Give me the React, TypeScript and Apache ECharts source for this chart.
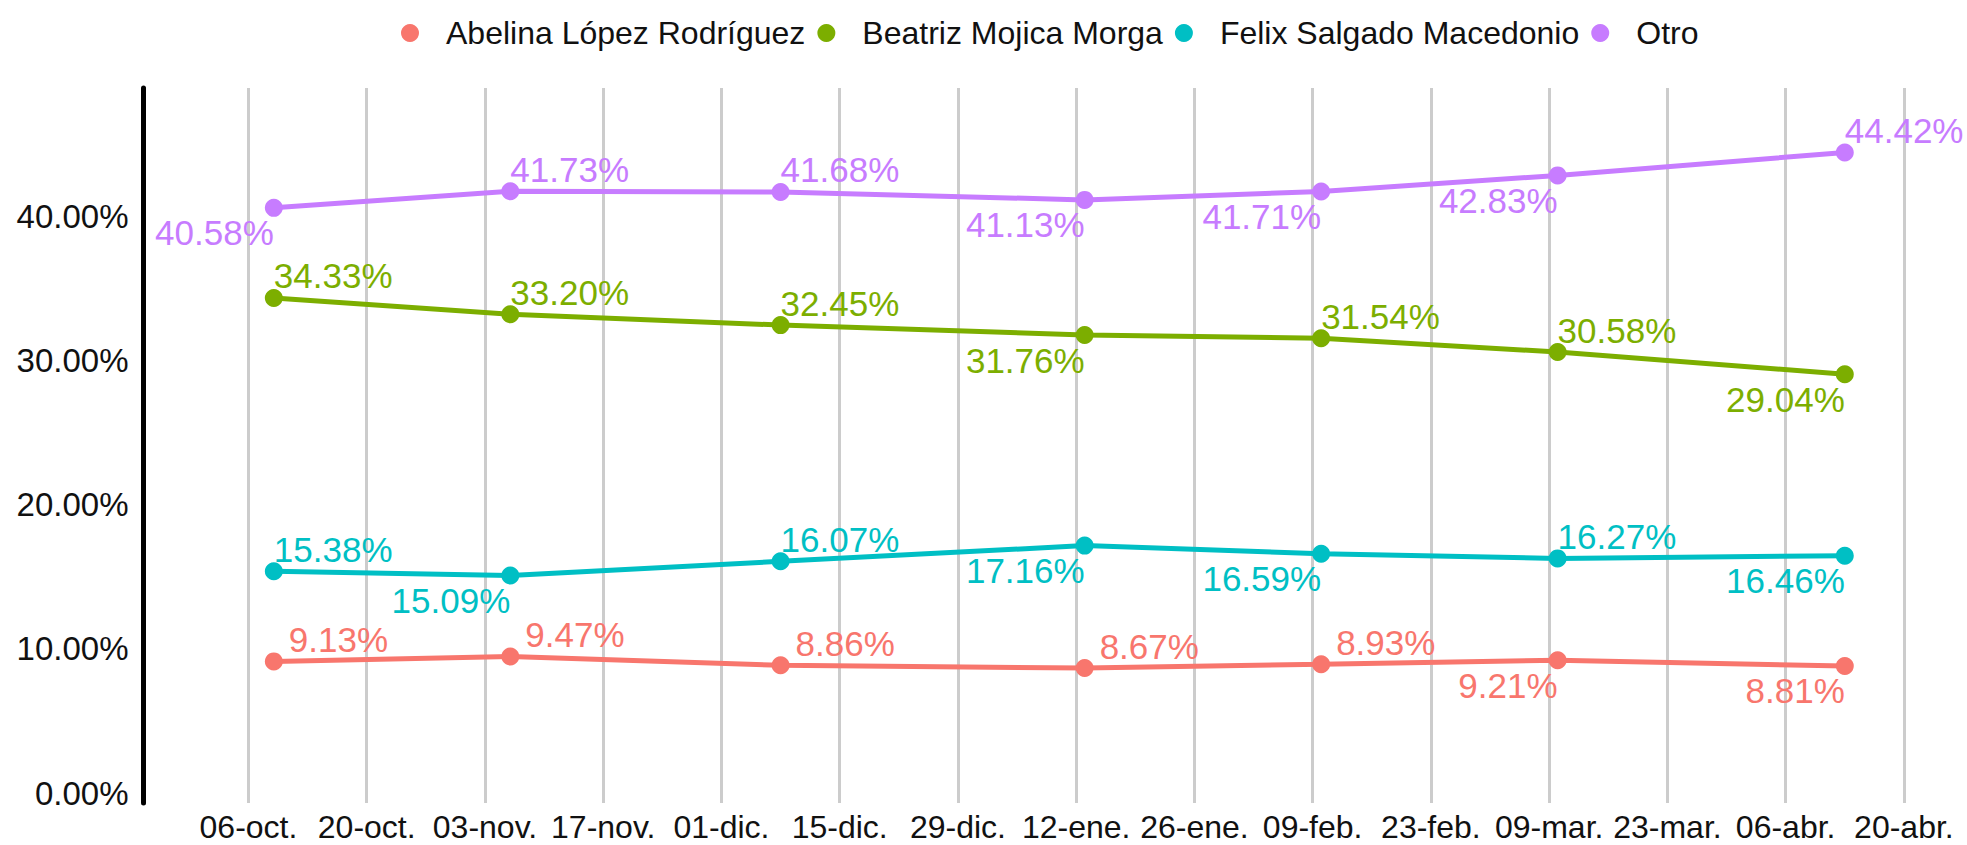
import React, { useEffect, useRef } from "react";
import * as echarts from "echarts";

// ---- data ----
const surveyDates = ["2020-10-09", "2020-11-06", "2020-12-08", "2021-01-13", "2021-02-10", "2021-03-10", "2021-04-13"];
const candidates = ["Abelina López Rodríguez", "Beatriz Mojica Morga", "Felix Salgado Macedonio", "Otro"];
const abelina = [9.13, 9.47, 8.86, 8.67, 8.93, 9.21, 8.81];
const beatriz = [34.33, 33.2, 32.45, 31.76, 31.54, 30.58, 29.04];
const felix = [15.38, 15.09, 16.07, 17.16, 16.59, 16.27, 16.46];
const otro = [40.58, 41.73, 41.68, 41.13, 41.71, 42.83, 44.42];
const tickOrigin = "2020-10-06"; // first axis break, every 14 days
const tickStepDays = 14;
const monthAbbr = ["ene.", "feb.", "mar.", "abr.", "may.", "jun.", "jul.", "ago.", "sep.", "oct.", "nov.", "dic."];

// ---- label placement (true = below-left of point) ----
const abelinaBelow = [false, false, false, false, false, true, true];
const beatrizBelow = [false, false, false, true, false, false, true];
const felixBelow = [false, true, false, true, true, false, true];
const otroBelow = [true, false, false, true, true, true, false];

const colors = ["#F8766D", "#7CAE00", "#00BFC4", "#C77CFF"];
const FONT = "'Liberation Sans', Arial, Helvetica, sans-serif";
const DAY = 86400000;

const toDays = (s: string) => {
  const [y, m, d] = s.split("-").map(Number);
  const [oy, om, od] = tickOrigin.split("-").map(Number);
  return Math.round((Date.UTC(y, m - 1, d) - Date.UTC(oy, om - 1, od)) / DAY);
};
const dayLabel = (v: number) => {
  const [oy, om, od] = tickOrigin.split("-").map(Number);
  const dt = new Date(Date.UTC(oy, om - 1, od) + Math.round(v) * DAY);
  const dd = String(dt.getUTCDate()).padStart(2, "0");
  return dd + "-" + monthAbbr[dt.getUTCMonth()];
};

const SYM = 18;

function buildSeries(name: string, values: number[], below: boolean[], color: string, aboveDx: number) {
  return {
    name,
    type: "line",
    data: values.map((v, i) => ({
      value: [toDays(surveyDates[i]), v],
      label: below[i]
        ? { position: [SYM / 2, SYM / 2 + 25], align: "right", verticalAlign: "middle" }
        : { position: [SYM / 2 + aboveDx, SYM / 2 - 22], align: "left", verticalAlign: "middle" },
    })),
    symbol: "circle",
    symbolSize: SYM,
    lineStyle: { color, width: 5 },
    itemStyle: { color },
    label: {
      show: true,
      color,
      fontSize: 35,
      fontFamily: FONT,
      formatter: (p: any) => p.value[1].toFixed(2) + "%",
    },
    emphasis: { disabled: true },
  };
}

export default function App() {
  const ref = useRef<HTMLDivElement>(null);
  useEffect(() => {
    document.body.style.margin = "0";
    if (!ref.current) return;
    const chart = echarts.init(ref.current, undefined, { renderer: "svg" });
    const allSeries = [
      buildSeries(candidates[0], abelina, abelinaBelow, colors[0], 15),
      buildSeries(candidates[1], beatriz, beatrizBelow, colors[1], 0),
      buildSeries(candidates[2], felix, felixBelow, colors[2], 0),
      buildSeries(candidates[3], otro, otroBelow, colors[3], 0),
    ];
    chart.setOption({
      animation: false,
      backgroundColor: "#ffffff",
      textStyle: { fontFamily: FONT },
      legend: {
        data: candidates,
        left: 396,
        top: 10,
        icon: "circle",
        itemWidth: 62,
        itemHeight: 18,
        itemGap: 12,
        textStyle: { fontSize: 32, color: "#111", fontFamily: FONT, lineHeight: 36 },
      },
      grid: { left: 143.5, right: 0, top: 88, bottom: 42, containLabel: false, outerBoundsMode: "none" },
      xAxis: {
        type: "value",
        min: -12.43,
        max: 203.47,
        minInterval: tickStepDays,
        maxInterval: tickStepDays,
        axisLine: { show: false },
        axisTick: { show: false },
        axisLabel: {
          show: true,
          showMinLabel: false,
          showMaxLabel: false,
          fontSize: 32,
          lineHeight: 30,
          color: "#111",
          fontFamily: FONT,
          margin: 9,
          formatter: (v: number) => dayLabel(v),
        },
        splitLine: { show: true, showMinLine: false, showMaxLine: false, lineStyle: { color: "#cccccc", width: 3 } },
      },
      yAxis: {
        type: "value",
        min: -0.69,
        max: 48.89,
        minInterval: 10,
        maxInterval: 10,
        axisLine: { show: true, onZero: false, lineStyle: { color: "#000", width: 5 } },
        axisTick: { show: false },
        splitLine: { show: false },
        axisLabel: {
          show: true,
          showMinLabel: false,
          showMaxLabel: false,
          fontSize: 33,
          color: "#111",
          fontFamily: FONT,
          margin: 15,
          formatter: (v: number) => v.toFixed(2) + "%",
        },
      },
      series: allSeries,
    });
    return () => chart.dispose();
  }, []);
  return <div ref={ref} style={{ width: 1967, height: 845 }} />;
}
